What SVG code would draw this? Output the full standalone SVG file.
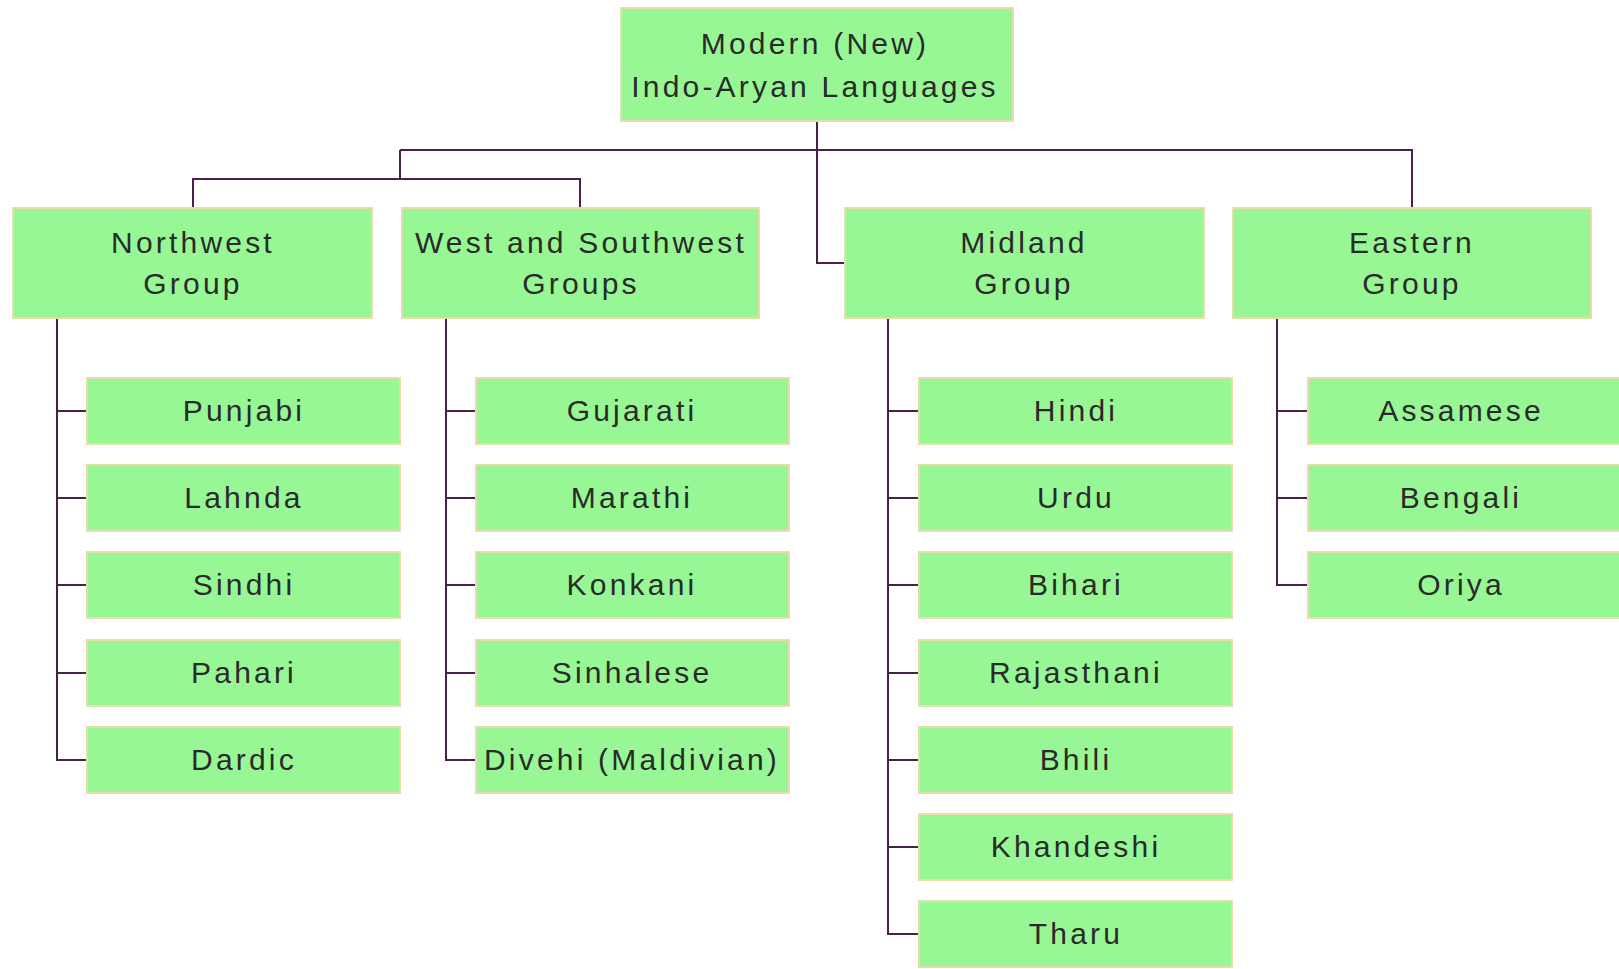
<svg xmlns="http://www.w3.org/2000/svg" width="1619" height="969" viewBox="0 0 1619 969">
<style>
.b{fill:#98f795;stroke:#eadbab;stroke-width:2}
.t{font-family:"Liberation Sans",Arial,sans-serif;font-size:30px;letter-spacing:3.2px;fill:#2a2a2a;text-anchor:middle}
.c{fill:none;stroke:#4a1f48;stroke-width:2}
</style>
<rect width="1619" height="969" fill="#ffffff"/>
<g id="connectors" class="c">
<path d="M817 121V263H845"/>
<path d="M400 150H1412V209"/>
<path d="M400 150V179M193 208V179H580V208"/>
<path d="M57 318V760H87M57 411H87M57 498H87M57 585H87M57 673H87"/>
<path d="M446 318V760H476M446 411H476M446 498H476M446 585H476M446 673H476"/>
<path d="M888 318V934H919M888 411H919M888 498H919M888 585H919M888 673H919M888 760H919M888 847H919"/>
<path d="M1277 318V585H1308M1277 411H1308M1277 498H1308"/>
</g>
<g id="root"><rect class="b" x="621" y="8" width="392" height="113"/><text class="t" x="815" y="54">Modern (New)</text><text class="t" x="815" y="97">Indo-Aryan Languages</text></g>
<g id="northwest"><rect class="b" x="13" y="208" width="359" height="110"/><text class="t" x="193" y="253">Northwest</text><text class="t" x="193" y="294">Group</text></g>
<g id="west"><rect class="b" x="402" y="208" width="357" height="110"/><text class="t" x="581" y="253">West and Southwest</text><text class="t" x="581" y="294">Groups</text></g>
<g id="midland"><rect class="b" x="845" y="208" width="359" height="110"/><text class="t" x="1024" y="253">Midland</text><text class="t" x="1024" y="294">Group</text></g>
<g id="eastern"><rect class="b" x="1233" y="208" width="358" height="110"/><text class="t" x="1412" y="253">Eastern</text><text class="t" x="1412" y="294">Group</text></g>
<g id="punjabi"><rect class="b" x="87" y="378" width="313" height="66"/><text class="t" x="244" y="421">Punjabi</text></g>
<g id="lahnda"><rect class="b" x="87" y="465" width="313" height="66"/><text class="t" x="244" y="508">Lahnda</text></g>
<g id="sindhi"><rect class="b" x="87" y="552" width="313" height="66"/><text class="t" x="244" y="595">Sindhi</text></g>
<g id="pahari"><rect class="b" x="87" y="640" width="313" height="66"/><text class="t" x="244" y="683">Pahari</text></g>
<g id="dardic"><rect class="b" x="87" y="727" width="313" height="66"/><text class="t" x="244" y="770">Dardic</text></g>
<g id="gujarati"><rect class="b" x="476" y="378" width="313" height="66"/><text class="t" x="632" y="421">Gujarati</text></g>
<g id="marathi"><rect class="b" x="476" y="465" width="313" height="66"/><text class="t" x="632" y="508">Marathi</text></g>
<g id="konkani"><rect class="b" x="476" y="552" width="313" height="66"/><text class="t" x="632" y="595">Konkani</text></g>
<g id="sinhalese"><rect class="b" x="476" y="640" width="313" height="66"/><text class="t" x="632" y="683">Sinhalese</text></g>
<g id="divehi"><rect class="b" x="476" y="727" width="313" height="66"/><text class="t" x="632" y="770">Divehi (Maldivian)</text></g>
<g id="hindi"><rect class="b" x="919" y="378" width="313" height="66"/><text class="t" x="1076" y="421">Hindi</text></g>
<g id="urdu"><rect class="b" x="919" y="465" width="313" height="66"/><text class="t" x="1076" y="508">Urdu</text></g>
<g id="bihari"><rect class="b" x="919" y="552" width="313" height="66"/><text class="t" x="1076" y="595">Bihari</text></g>
<g id="rajasthani"><rect class="b" x="919" y="640" width="313" height="66"/><text class="t" x="1076" y="683">Rajasthani</text></g>
<g id="bhili"><rect class="b" x="919" y="727" width="313" height="66"/><text class="t" x="1076" y="770">Bhili</text></g>
<g id="khandeshi"><rect class="b" x="919" y="814" width="313" height="66"/><text class="t" x="1076" y="857">Khandeshi</text></g>
<g id="tharu"><rect class="b" x="919" y="901" width="313" height="66"/><text class="t" x="1076" y="944">Tharu</text></g>
<g id="assamese"><rect class="b" x="1308" y="378" width="313" height="66"/><text class="t" x="1461" y="421">Assamese</text></g>
<g id="bengali"><rect class="b" x="1308" y="465" width="313" height="66"/><text class="t" x="1461" y="508">Bengali</text></g>
<g id="oriya"><rect class="b" x="1308" y="552" width="313" height="66"/><text class="t" x="1461" y="595">Oriya</text></g>
</svg>
